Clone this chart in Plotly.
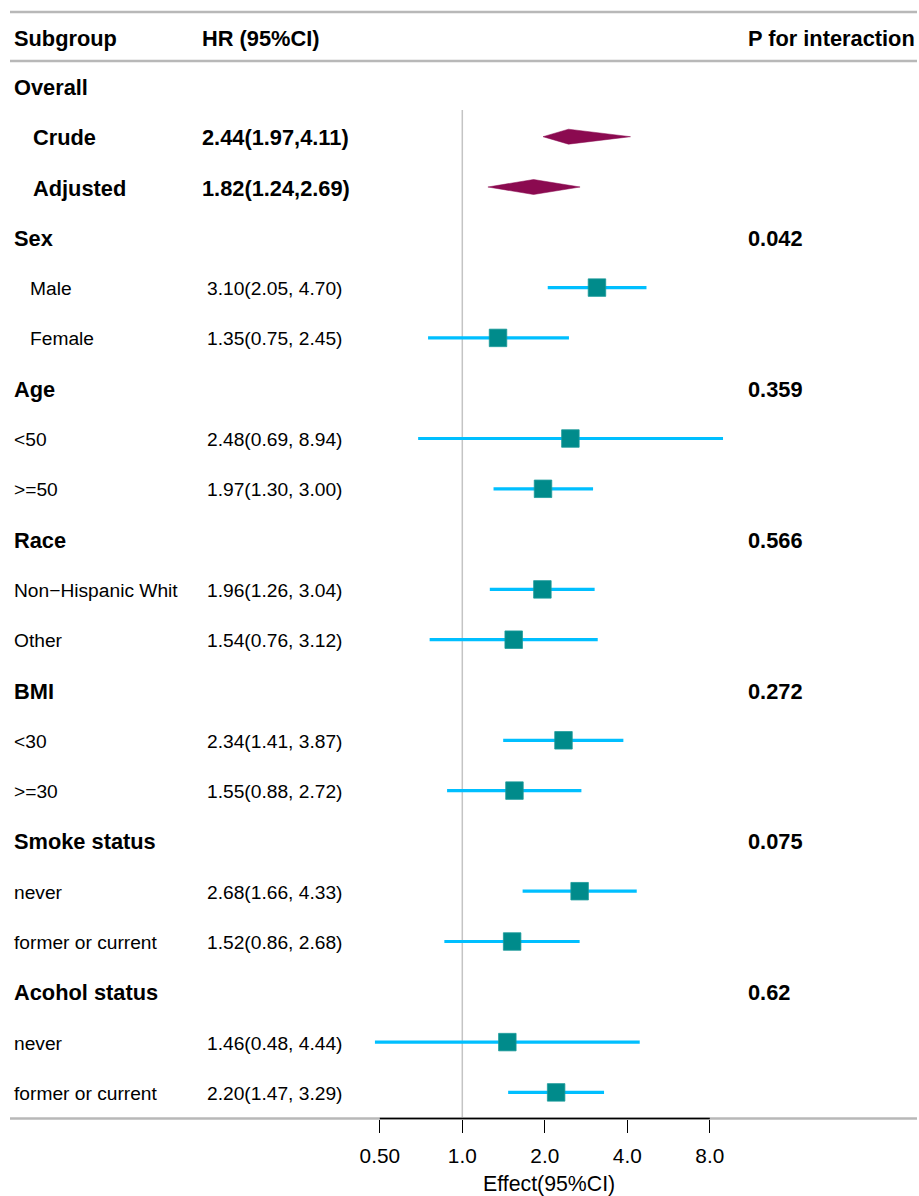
import math
import plotly.graph_objects as go

# ---------------- data ----------------
subgroups = ["Overall", "Crude", "Adjusted", "Sex", "Male", "Female", "Age", "<50", ">=50",
             "Race", "Non\u2212Hispanic Whit", "Other", "BMI", "<30", ">=30", "Smoke status",
             "never", "former or current", "Acohol status", "never", "former or current"]
row_kind = ["head", "overall", "overall", "head", "sub_ind", "sub_ind", "head", "sub", "sub",
            "head", "sub", "sub", "head", "sub", "sub", "head", "sub", "sub", "head", "sub", "sub"]
hr_text = ["", "2.44(1.97,4.11)", "1.82(1.24,2.69)", "", "3.10(2.05, 4.70)", "1.35(0.75, 2.45)",
           "", "2.48(0.69, 8.94)", "1.97(1.30, 3.00)", "", "1.96(1.26, 3.04)", "1.54(0.76, 3.12)",
           "", "2.34(1.41, 3.87)", "1.55(0.88, 2.72)", "", "2.68(1.66, 4.33)", "1.52(0.86, 2.68)",
           "", "1.46(0.48, 4.44)", "2.20(1.47, 3.29)"]
p_text = ["", "", "", "0.042", "", "", "0.359", "", "", "0.566", "", "", "0.272", "", "",
          "0.075", "", "", "0.62", "", ""]
est = [None, 2.44, 1.82, None, 3.10, 1.35, None, 2.48, 1.97, None, 1.96, 1.54, None, 2.34, 1.55,
       None, 2.68, 1.52, None, 1.46, 2.20]
lower = [None, 1.97, 1.24, None, 2.05, 0.75, None, 0.69, 1.30, None, 1.26, 0.76, None, 1.41, 0.88,
         None, 1.66, 0.86, None, 0.48, 1.47]
upper = [None, 4.11, 2.69, None, 4.70, 2.45, None, 8.94, 3.00, None, 3.04, 3.12, None, 3.87, 2.72,
         None, 4.33, 2.68, None, 4.44, 3.29]
tick_vals = [0.5, 1, 2, 4, 8]
tick_text = ["0.50", "1.0", "2.0", "4.0", "8.0"]
ref_value = 1

# ---------------- layout geometry ----------------
W, H = 919, 1196
ROW0_PX, ROW_H = 86.4, 50.3      # pixel centre of first row, row spacing
X1_PX, DOUBLE_PX = 462.3, 82.5   # pixel of HR=1, pixels per doubling
AXIS_PX = 1118.5

def px2row(p):
    return (p - ROW0_PX) / ROW_H

def pxx(p):
    return p / W

FONT = "Liberation Sans, Arial, Helvetica, sans-serif"
BOLD_SIZE = 21.8
REG_SIZE = 19.2
LINE_GRAY = "#b8b8b8"
TXT_DX = -2

fig = go.Figure()

# reference line
fig.add_trace(go.Scatter(x=[ref_value, ref_value], y=[px2row(110), px2row(AXIS_PX)],
                         mode="lines", line=dict(color="#c4c4c4", width=1.5),
                         hoverinfo="skip", showlegend=False))

# CI lines
xs, ys = [], []
for i, k in enumerate(row_kind):
    if k in ("sub", "sub_ind"):
        xs += [lower[i], upper[i], None]
        ys += [i, i, None]
fig.add_trace(go.Scatter(x=xs, y=ys, mode="lines", line=dict(color="#00BFFF", width=3.2),
                         hoverinfo="skip", showlegend=False))

# squares
sx = [est[i] for i, k in enumerate(row_kind) if k in ("sub", "sub_ind")]
sy = [i for i, k in enumerate(row_kind) if k in ("sub", "sub_ind")]
fig.add_trace(go.Scatter(x=sx, y=sy, mode="markers",
                         marker=dict(symbol="square", size=17.5, color="#008B8B",
                                     line=dict(width=0.8, color="#1a9a9a")),
                         cliponaxis=False, hoverinfo="skip", showlegend=False))

# diamonds
dh = 7.5 / ROW_H
for i, k in enumerate(row_kind):
    if k == "overall":
        fig.add_trace(go.Scatter(
            x=[lower[i], est[i], upper[i], est[i], lower[i]],
            y=[i, i - dh, i, i + dh, i],
            mode="lines", fill="toself", fillcolor="#8B0A50",
            line=dict(color="#8B0A50", width=0.5),
            hoverinfo="skip", showlegend=False))

# axis baseline (black) across tick range
fig.add_trace(go.Scatter(x=[tick_vals[0], tick_vals[-1]], y=[px2row(AXIS_PX)] * 2,
                         mode="lines", line=dict(color="#000000", width=1.3),
                         hoverinfo="skip", showlegend=False))

shapes = []
for p in (12, 61, AXIS_PX):
    shapes.append(dict(type="line", xref="paper", yref="y", x0=pxx(10), x1=pxx(917),
                       y0=px2row(p), y1=px2row(p), line=dict(color=LINE_GRAY, width=2.6),
                       layer="below"))

ann = []
def txt(x_px, row, s, bold=False, size=None):
    ann.append(dict(x=pxx(x_px + TXT_DX), y=row, xref="paper", yref="y", xanchor="left",
                    yanchor="middle", showarrow=False, yshift=-1,
                    text=("<b>%s</b>" % s) if bold else s,
                    font=dict(family=FONT, size=size or (BOLD_SIZE if bold else REG_SIZE),
                              color="#000000")))

hdr_row = px2row(37)
txt(14, hdr_row, "Subgroup", True)
txt(202, hdr_row, "HR (95%CI)", True)
txt(748, hdr_row, "P for interaction", True)

for i, s in enumerate(subgroups):
    k = row_kind[i]
    if k == "head":
        txt(14, i, s, True)
    elif k == "overall":
        txt(33, i, s, True)
    elif k == "sub_ind":
        txt(30, i, s)
    else:
        txt(14, i, s)
    if hr_text[i]:
        if k == "overall":
            txt(202, i, hr_text[i], True)
        else:
            txt(207, i, hr_text[i])
    if p_text[i]:
        txt(748, i, p_text[i], True)

# axis title
ann.append(dict(x=pxx(549), y=1 - 1184 / H, xref="paper", yref="paper", xanchor="center",
                yanchor="middle", showarrow=False, text="Effect(95%CI)",
                font=dict(family=FONT, size=21.3, color="#000000")))

log2_10 = math.log10(2)
fig.update_layout(
    width=W, height=H,
    margin=dict(l=0, r=0, t=0, b=0),
    paper_bgcolor="white", plot_bgcolor="white",
    showlegend=False,
    shapes=shapes, annotations=ann,
    xaxis=dict(type="log", domain=[0, 1],
               range=[(0 - X1_PX) / DOUBLE_PX * log2_10, (W - X1_PX) / DOUBLE_PX * log2_10],
               tickvals=tick_vals, ticktext=tick_text,
               ticks="outside", ticklen=13, tickwidth=1.3, tickcolor="#000000",
               ticklabelstandoff=6,
               tickfont=dict(family=FONT, size=20.8, color="#000000"),
               showline=False, showgrid=False, zeroline=False,
               anchor="free", position=1 - AXIS_PX / H, automargin=False),
    yaxis=dict(domain=[0, 1], range=[px2row(H), px2row(0)], visible=False,
               showgrid=False, zeroline=False, automargin=False),
)

fig.write_html("out.html")
